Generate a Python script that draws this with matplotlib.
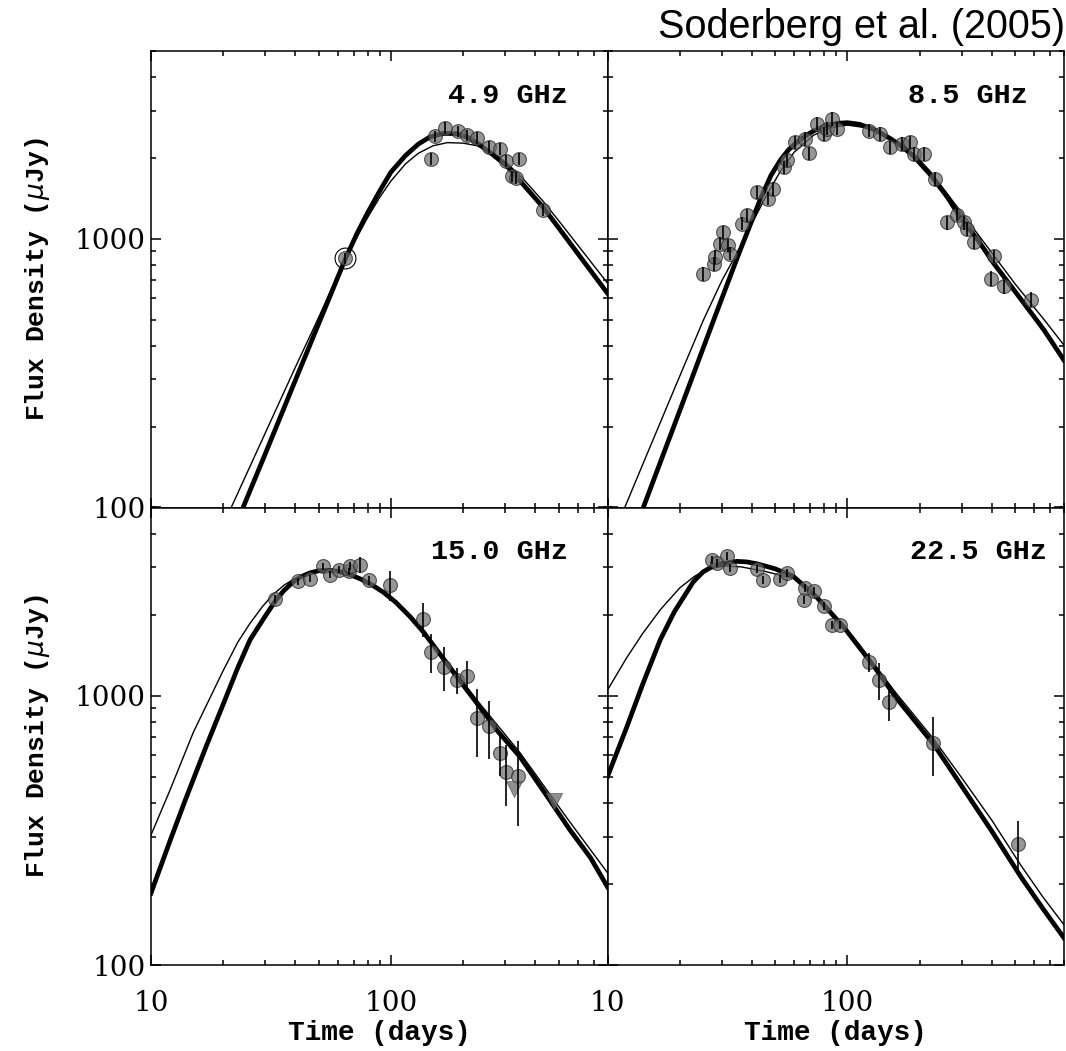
import matplotlib
matplotlib.use("Agg")
import matplotlib.pyplot as plt
from matplotlib.ticker import LogLocator, NullFormatter, FixedLocator, FixedFormatter

# ---- 4.9 GHz ----
t_49 = [64.6, 147, 153, 168, 190, 207, 229, 256, 285, 303, 321, 331, 342, 431]
f_49 = [846, 1986, 2404, 2590, 2510, 2427, 2372, 2194, 2165, 1945, 1708, 1689, 1986, 1284]
e_49 = [40, 100, 120, 130, 125, 120, 120, 110, 110, 100, 85, 85, 100, 65]
thick_t_49 = [20, 24.2, 30, 40, 50, 64.6, 72, 80, 90, 100, 115, 130, 145, 166, 190, 210, 229,
              260, 303, 350, 431, 500, 600, 800]
thick_f_49 = [66, 100, 159, 298, 483, 842, 1040, 1250, 1510, 1770, 2040, 2250, 2390, 2470, 2460,
              2380, 2270, 2090, 1875, 1620, 1312, 1100, 884, 627]
thin_t_49 = [18, 21.6, 30, 40, 50, 64.6, 72, 80, 90, 100, 115, 130, 150, 172, 200, 229, 260,
             303, 350, 431, 500, 600, 800]
thin_f_49 = [70, 100, 190, 333, 510, 846, 1010, 1200, 1430, 1640, 1900, 2080, 2220, 2280, 2270,
             2220, 2110, 1920, 1700, 1380, 1170, 950, 684]

# ---- 8.5 GHz ----
t_85 = [25.1, 27.7, 28.1, 29.5, 30.4, 31.9, 32.5, 36.3, 38.1, 42.0, 46.9, 49.2, 54.2, 56.0,
        60.7, 66.8, 68.9, 74.7, 79.6, 82.2, 86.3, 90.6, 122.7, 137, 151, 169, 183, 189, 208,
        233, 261, 287, 306, 316, 337, 396, 408, 450, 581]
f_85 = [742, 809, 855, 960, 1060, 946, 881, 1139, 1222, 1493, 1411, 1538, 1849, 1959,
        2293, 2358, 2084, 2681, 2460, 2571, 2798, 2571, 2529, 2460, 2194, 2259, 2293, 2073, 2073,
        1674, 1150, 1230, 1150, 1091, 973, 711, 861, 665, 594]
e_85 = [45, 50, 50, 55, 60, 55, 50, 65, 70, 85, 80, 90, 105, 110,
        130, 135, 120, 150, 140, 145, 160, 145, 140, 140, 125, 130, 130, 120, 120,
        95, 70, 70, 70, 65, 60, 45, 50, 40, 38]
thick_t_85 = [12, 14.1, 20, 27.7, 35, 43.3, 48, 52.5, 57, 62, 67, 72.3, 80, 90, 100, 112, 125,
              137, 150, 165, 189, 222, 261, 296, 350, 408, 500, 661, 800]
thick_f_85 = [68, 100, 229, 498, 865, 1400, 1720, 1960, 2150, 2300, 2420, 2520, 2620, 2690, 2705,
              2670, 2580, 2480, 2370, 2240, 2030, 1730, 1430, 1200, 990, 809, 637, 457, 353]
thin_t_85 = [10, 11.8, 15, 20, 25.1, 30, 35, 40, 46, 52.5, 60, 72.3, 85, 100, 120, 137, 165, 189,
             222, 261, 350, 500, 661, 800]
thin_f_85 = [70, 100, 167, 308, 498, 700, 900, 1140, 1450, 1780, 2100, 2430, 2590, 2650, 2590,
             2470, 2250, 2070, 1780, 1470, 1040, 680, 500, 402]

# ---- 15.0 GHz ----
t_150 = [32.9, 41.2, 46.1, 52.1, 55.9, 60.5, 66.7, 67.7, 74.6, 81.3, 99.5, 136, 147, 167,
         189, 207, 228, 256, 284, 301, 340]
f_150 = [2288, 2661, 2718, 3026, 2818, 2940, 2897, 3026, 3069, 2684, 2586, 1928, 1452, 1280,
         1140, 1180, 826, 769, 612, 523, 504]
e_150 = [70, 80, 80, 90, 85, 90, 90, 100, 210, 100, 330, 280, 240, 240,
         123, 160, 235, 185, 107, 135, 175]
lim_t_150 = [326, 479]
lim_f_150 = [450, 407]
thick_t_150 = [10, 12, 13.9, 17, 20, 23, 25.9, 28, 30, 33, 35.7, 39, 42, 46, 50, 54.2, 60, 68,
               75, 84, 93.2, 105, 120, 137, 180, 228, 280, 345, 450, 557, 680, 800]
thick_f_150 = [185, 289, 410, 650, 930, 1270, 1615, 1800, 1980, 2250, 2450, 2640, 2760, 2860,
               2910, 2925, 2900, 2810, 2710, 2570, 2420, 2220, 1970, 1720, 1240, 940, 735, 594,
               421, 318, 250, 195]
thin_t_150 = [10, 12, 15, 20, 23, 25.9, 29, 32, 36, 40, 45, 50, 55, 60, 75, 93, 115, 137, 180,
              228, 345, 557, 800]
thin_f_150 = [304, 446, 730, 1240, 1580, 1860, 2130, 2360, 2580, 2730, 2850, 2900, 2910, 2890,
              2730, 2430, 2060, 1740, 1270, 965, 615, 340, 220]

# ---- 22.5 GHz ----
t_225 = [27.2, 28.6, 31.5, 32.5, 42.0, 44.7, 52.5, 56.0, 65.7, 66.8, 72.8, 79.6, 86.3, 92.9,
         122.7, 136, 149, 228, 516]
f_225 = [3184, 3113, 3295, 2984, 2956, 2684, 2718, 2858, 2274, 2514, 2443, 2148, 1835, 1835,
         1331, 1147, 944, 670, 281]
e_225 = [110, 110, 115, 105, 105, 95, 95, 100, 80, 90, 85, 75, 65, 65,
         105, 180, 140, 165, 62]
thick_t_225 = [10, 12, 14, 16.6, 19, 22.8, 25, 27, 30, 34.7, 38, 42, 50, 59.6, 75, 96.5, 130, 160,
               229, 300, 400, 528, 650, 800]
thick_f_225 = [501, 760, 1100, 1615, 2050, 2650, 2880, 3000, 3100, 3155, 3140, 3090, 2960, 2773,
               2307, 1800, 1274, 981, 660, 461, 314, 213, 163, 126]
thin_t_225 = [10, 12, 14, 16.6, 20, 23, 25, 28, 31, 36, 45, 60, 80, 106, 160, 229, 300, 400, 528,
              650, 800]
thin_f_225 = [1050, 1380, 1700, 2086, 2513, 2772, 2890, 2990, 3030, 3010, 2900, 2720, 2200, 1650,
              1020, 690, 495, 345, 235, 180, 141]

labels = ["4.9 GHz", "8.5 GHz", "15.0 GHz", "22.5 GHz"]

W, H = 1066, 1051
fig = plt.figure(figsize=(W / 100, H / 100), dpi=100)


def add_panel(x0, x1, y0, y1):
    return fig.add_axes([x0 / W, 1 - y1 / H, (x1 - x0) / W, (y1 - y0) / H])


axes = [add_panel(151, 607.5, 51, 507.5), add_panel(607.5, 1064, 51, 507.5),
        add_panel(151, 607.5, 507.5, 965), add_panel(607.5, 1064, 507.5, 965)]

panels = [
    (t_49, f_49, e_49, thick_t_49, thick_f_49, thin_t_49, thin_f_49),
    (t_85, f_85, e_85, thick_t_85, thick_f_85, thin_t_85, thin_f_85),
    (t_150, f_150, e_150, thick_t_150, thick_f_150, thin_t_150, thin_f_150),
    (t_225, f_225, e_225, thick_t_225, thick_f_225, thin_t_225, thin_f_225),
]
label_x = [0.913, 0.92, 0.913, 0.962]

gray = '#6a6a6a'
for i, (ax, p) in enumerate(zip(axes, panels)):
    t, f, e, tkt, tkf, tnt, tnf = p
    ax.set_xscale('log')
    ax.set_yscale('log')
    ax.plot(tnt, tnf, color='black', lw=1.0, zorder=2)
    ax.plot(tkt, tkf, color='black', lw=3.4, zorder=2, solid_joinstyle='round')
    ax.plot(t, f, 'o', ms=10, mfc=gray, mec='#222222', mew=0.8, alpha=0.7, zorder=3)
    ax.errorbar(t, f, yerr=e, fmt='none', ecolor='black', elinewidth=1.2, capsize=0, zorder=4)
    if i == 0:
        ax.plot(t[0], f[0], 'o', ms=15, mfc='none', mec='black', mew=0.8, zorder=4)
    if i == 2:
        ax.plot(lim_t_150, lim_f_150, 'v', ms=11, mfc=gray, mec='#555555', mew=0.6, alpha=0.75, zorder=3)

    ax.set_xlim(10, 800)
    ax.set_ylim(100, 5000)
    ax.xaxis.set_major_locator(FixedLocator([10, 100]))
    ax.yaxis.set_major_locator(FixedLocator([100, 1000]))
    ax.xaxis.set_minor_locator(LogLocator(base=10, subs=range(2, 10)))
    ax.yaxis.set_minor_locator(LogLocator(base=10, subs=range(2, 10)))
    ax.xaxis.set_minor_formatter(NullFormatter())
    ax.yaxis.set_minor_formatter(NullFormatter())
    ax.tick_params(which='both', direction='in', top=True, right=True, width=1.1)
    ax.tick_params(which='major', length=7.5)
    ax.tick_params(which='minor', length=3.8)
    ax.tick_params(axis='x', pad=18)
    ax.tick_params(axis='y', pad=4)
    for s in ax.spines.values():
        s.set_linewidth(1.1)

    if i in (0, 2):
        ax.yaxis.set_major_formatter(FixedFormatter(['100', '1000']))
        ax.set_ylabel('Flux Density ($\\mu$Jy)', fontsize=19, fontweight='bold',
                      family='Liberation Mono', labelpad=16)
    else:
        ax.yaxis.set_major_formatter(NullFormatter())
    if i in (2, 3):
        ax.xaxis.set_major_formatter(FixedFormatter(['10', '100']))
        ax.set_xlabel('Time (days)', fontsize=20, fontweight='bold',
                      family='Liberation Mono', labelpad=2)
    else:
        ax.xaxis.set_major_formatter(NullFormatter())
    for lab in ax.get_xticklabels() + ax.get_yticklabels():
        lab.set_family('DejaVu Serif')
        lab.set_fontsize(20)

    ax.text(label_x[i], 0.902, labels[i], transform=ax.transAxes, ha='right', va='center',
            fontsize=20.5, fontweight='bold', family='Liberation Mono')

fig.text(1065 / W, 1 - 38 / H, 'Soderberg et al. (2005)', ha='right', va='baseline',
         fontsize=28.5, family='Liberation Sans')

fig.savefig('out.png', dpi=100)
